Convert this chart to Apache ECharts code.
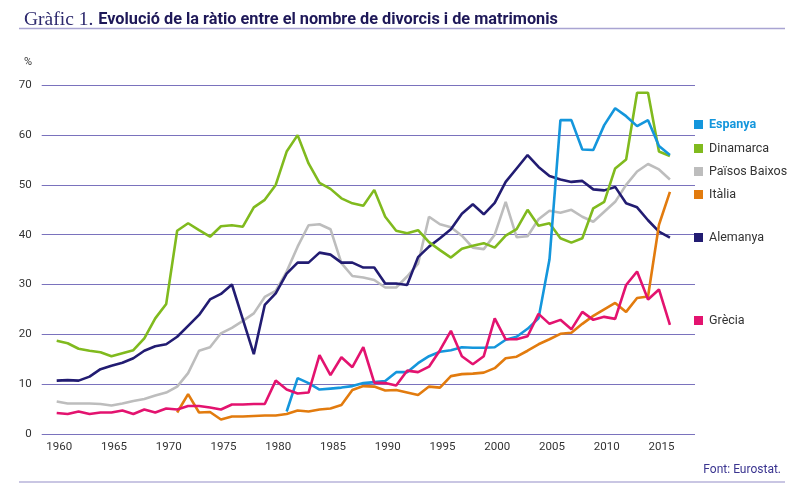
<!DOCTYPE html>
<html lang="ca">
<head>
<meta charset="UTF-8">
<title>Gràfic 1</title>
<style>
  html, body { margin: 0; padding: 0; background: #fff; }
  #main { width: 800px; height: 486px; }
</style>
</head>
<body>
<div id="main"></div>
<script src="https://cdn.jsdelivr.net/npm/echarts@6/dist/echarts.min.js"></script>
<script>
// anys 1960-2016
var years = [];
for (var y = 1960; y <= 2016; y++) years.push(y);

var xTicks = [1960, 1965, 1970, 1975, 1980, 1985, 1990, 1995, 2000, 2005, 2010, 2015];

var dinamarca = [18.7, 18.2, 17.1, 16.7, 16.4, 15.6, 16.2, 16.8, 19.2, 23.2,
  26.1, 40.8, 42.3, 40.9, 39.6, 41.7, 41.9, 41.6, 45.5, 47.0,
  50.0, 56.7, 60.0, 54.3, 50.4, 49.2, 47.3, 46.3, 45.8, 49.0,
  43.6, 40.8, 40.3, 40.9, 38.5, 36.9, 35.4, 37.2, 37.8, 38.3,
  37.4, 39.8, 41.1, 45.0, 41.8, 42.3, 39.3, 38.4, 39.3, 45.3,
  46.6, 53.3, 55.1, 68.5, 68.5, 56.7, 55.8];

var alemanya = [10.7, 10.8, 10.7, 11.5, 13.0, 13.7, 14.3, 15.2, 16.7, 17.6,
  18.0, 19.5, 21.7, 23.9, 27.0, 28.1, 30.0, 23.0, 16.0, 25.9,
  28.2, 32.2, 34.4, 34.4, 36.4, 36.0, 34.4, 34.4, 33.4, 33.4,
  30.2, 30.2, 29.9, 35.5, 37.6, 39.3, 41.1, 44.2, 46.1, 44.1,
  46.4, 50.6, 53.3, 56.0, 53.6, 51.8, 51.1, 50.6, 50.8, 49.1,
  48.9, 49.6, 46.3, 45.5, 42.9, 40.6, 39.4];

var paisosBaixos = [6.5, 6.1, 6.1, 6.1, 6.0, 5.7, 6.1, 6.6, 7.0, 7.7,
  8.3, 9.5, 12.2, 16.7, 17.4, 20.2, 21.3, 22.7, 24.2, 27.5,
  28.7, 32.6, 37.6, 41.9, 42.1, 41.1, 34.3, 31.7, 31.4, 30.9,
  29.4, 29.4, 31.6, 34.2, 43.6, 42.1, 41.5, 39.8, 37.4, 37.1,
  40.0, 46.6, 39.5, 39.7, 43.1, 44.8, 44.4, 45.0, 43.6, 42.6,
  44.6, 46.6, 50.0, 52.7, 54.2, 53.1, 51.1];

var italia = [null, null, null, null, null, null, null, null, null, null,
  null, 4.3, 8.0, 4.3, 4.4, 2.9, 3.5, 3.5, 3.6, 3.7,
  3.7, 4.0, 4.7, 4.5, 4.9, 5.1, 5.8, 8.8, 9.6, 9.5,
  8.7, 8.8, 8.3, 7.8, 9.5, 9.3, 11.6, 12.0, 12.1, 12.3,
  13.2, 15.2, 15.5, 16.7, 18.0, 19.0, 20.1, 20.3, 22.1, 23.7,
  25.0, 26.3, 24.5, 27.3, 27.6, 42.0, 48.6];

var grecia = [4.2, 4.0, 4.5, 4.0, 4.3, 4.3, 4.7, 4.0, 4.9, 4.3,
  5.1, 4.9, 5.6, 5.6, 5.3, 4.9, 5.9, 5.9, 6.0, 6.0,
  10.7, 8.9, 8.1, 8.3, 15.8, 11.8, 15.4, 13.4, 17.4, 10.3,
  10.2, 9.7, 12.7, 12.4, 13.5, 16.8, 20.7, 15.6, 14.0, 15.6,
  23.2, 19.0, 19.0, 19.6, 24.1, 22.1, 22.9, 21.0, 24.5, 22.9,
  23.5, 23.1, 29.9, 32.6, 27.0, 29.0, 21.9];

var espanya = [null, null, null, null, null, null, null, null, null, null,
  null, null, null, null, null, null, null, null, null, null,
  null, 4.5, 11.2, 10.2, 8.9, 9.1, 9.3, 9.6, 10.2, 10.4,
  10.6, 12.4, 12.4, 14.2, 15.6, 16.5, 16.8, 17.4, 17.3, 17.3,
  17.4, 18.9, 19.5, 21.1, 23.2, 35.0, 63.0, 63.0, 57.1, 57.0,
  62.0, 65.4, 63.8, 61.8, 63.0, 57.8, 56.0];

var names = ['Espanya', 'Dinamarca', 'Països Baixos', 'Itàlia', 'Alemanya', 'Grècia'];
var colors = {
  'Espanya': '#1496dc',
  'Dinamarca': '#80ba1e',
  'Països Baixos': '#bdbdbd',
  'Itàlia': '#e27b0e',
  'Alemanya': '#221c72',
  'Grècia': '#e3136f'
};
var legendTops = [118, 142, 165, 188, 231, 314];

function pairs(arr) {
  return years.map(function (yr, i) {
    return [yr, arr[i] == null ? '-' : arr[i]];
  });
}

function line(name, arr) {
  return {
    name: name,
    type: 'line',
    data: pairs(arr),
    symbol: 'none',
    smooth: false,
    lineStyle: { width: 2.6, color: colors[name] },
    itemStyle: { color: colors[name] }
  };
}

var font = 'Roboto, "Liberation Sans", sans-serif';

var legends = names.map(function (n, i) {
  var item = { name: n };
  if (n === 'Espanya') item.textStyle = { color: '#1496dc', fontWeight: 'bold' };
  return {
    data: [item],
    left: 694,
    top: legendTops[i],
    padding: 0,
    icon: 'rect',
    itemWidth: 9,
    itemHeight: 9,
    itemGap: 0,
    selectedMode: false,
    textStyle: { fontSize: 12.5, color: '#333', fontFamily: font, padding: [0, 0, 0, 1] }
  };
});

var chart = echarts.init(document.getElementById('main'));
var option = {
  animation: false,
  backgroundColor: '#fff',
  title: {
    left: 19,
    top: 5,
    text: '{a|Gràfic 1.} {b|Evolució de la ràtio entre el nombre de divorcis i de matrimonis}',
    textStyle: {
      fontWeight: 'normal',
      rich: {
        a: { fontFamily: '"Liberation Serif", serif', fontSize: 19.5, fontWeight: 'normal', color: '#2e2a6e', verticalAlign: 'bottom' },
        b: { fontFamily: 'Roboto', fontSize: 16.3, fontWeight: 'bold', color: '#1e1858', verticalAlign: 'bottom', padding: [0, 0, 2, 0] }
      }
    }
  },
  legend: legends,
  grid: { left: 41.7, right: 105, top: 85.3, bottom: 52.1, containLabel: false },
  xAxis: {
    type: 'value',
    min: 1958.63,
    max: 2018.29,
    axisLine: { show: false },
    axisTick: { show: false },
    splitLine: { show: false },
    axisLabel: {
      customValues: xTicks,
      formatter: function (v) { return String(v); },
      margin: 7,
      fontSize: 11.5,
      color: '#333',
      fontFamily: font,
      padding: [0, 0, 0, 5]
    }
  },
  yAxis: {
    type: 'value',
    min: 0,
    max: 70,
    interval: 10,
    axisLine: { show: false },
    axisTick: { show: false },
    axisLabel: { margin: 10, fontSize: 11.5, color: '#333', fontFamily: font },
    splitLine: { lineStyle: { color: '#7a72bd', width: 1.2 } }
  },
  series: [
    line('Països Baixos', paisosBaixos),
    line('Alemanya', alemanya),
    line('Dinamarca', dinamarca),
    line('Itàlia', italia),
    line('Espanya', espanya),
    line('Grècia', grecia)
  ],
  graphic: [
    { type: 'line', shape: { x1: 19, y1: 28.5, x2: 785, y2: 28.5 }, style: { stroke: '#a9a4d2', lineWidth: 1.5 } },
    { type: 'line', shape: { x1: 19, y1: 482, x2: 785, y2: 482 }, style: { stroke: '#c9c6e3', lineWidth: 2 } },
    { type: 'text', left: 24, top: 57, style: { text: '%', fontSize: 11, fill: '#333', fontFamily: font } },
    { type: 'text', right: 19, top: 464, style: { text: 'Font: Eurostat.', fontSize: 12, fill: '#3a3490', fontFamily: font } }
  ]
};
chart.setOption(option);
</script>
</body>
</html>
